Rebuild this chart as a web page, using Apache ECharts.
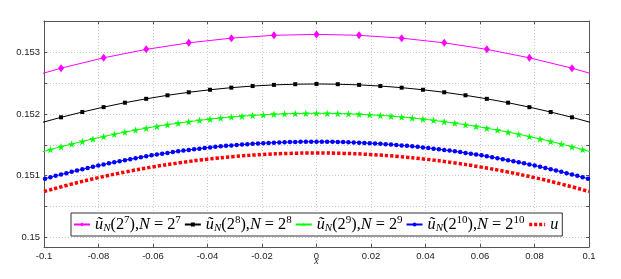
<!DOCTYPE html>
<html>
<head>
<meta charset="utf-8">
<script src="https://cdn.jsdelivr.net/npm/echarts@6/dist/echarts.min.js"></script>
<style>
html,body{margin:0;padding:0;background:#fff;}
#chart{width:621px;height:279px;}
</style>
</head>
<body>
<div id="chart"></div>
<script>
// ---- data ----
const xTicks = [-0.1, -0.08, -0.06, -0.04, -0.02, 0, 0.02, 0.04, 0.06, 0.08, 0.1];
const yTickLabels = [0.15, 0.151, 0.152, 0.153];
const yGridValues = [0.15, 0.1505, 0.151, 0.1515, 0.152, 0.1525, 0.153, 0.1535];

const x7 = [-0.10938, -0.09375, -0.07813, -0.0625, -0.04688, -0.03125, -0.01563, 0, 0.01563, 0.03125, 0.04688, 0.0625, 0.07813, 0.09375, 0.10938];
const y7 = [0.152546, 0.152743, 0.152911, 0.153048, 0.153154, 0.153230, 0.153276, 0.153291, 0.153276, 0.153230, 0.153154, 0.153048, 0.152911, 0.152743, 0.152546];

const x8 = [-0.10156, -0.09375, -0.08594, -0.07813, -0.07031, -0.0625, -0.05469, -0.04688, -0.03906, -0.03125, -0.02344, -0.01563, -0.00781, 0, 0.00781, 0.01563, 0.02344, 0.03125, 0.03906, 0.04688, 0.05469, 0.0625, 0.07031, 0.07813, 0.08594, 0.09375, 0.10156];
const y8 = [0.151852, 0.151946, 0.152032, 0.152111, 0.152183, 0.152246, 0.152303, 0.152352, 0.152393, 0.152427, 0.152453, 0.152472, 0.152483, 0.152487, 0.152483, 0.152472, 0.152453, 0.152427, 0.152393, 0.152352, 0.152303, 0.152246, 0.152183, 0.152111, 0.152032, 0.151946, 0.151852];

const x9 = [-0.10156, -0.09766, -0.09375, -0.08984, -0.08594, -0.08203, -0.07813, -0.07422, -0.07031, -0.06641, -0.0625, -0.05859, -0.05469, -0.05078, -0.04688, -0.04297, -0.03906, -0.03516, -0.03125, -0.02734, -0.02344, -0.01953, -0.01563, -0.01172, -0.00781, -0.00391, 0, 0.00391, 0.00781, 0.01172, 0.01563, 0.01953, 0.02344, 0.02734, 0.03125, 0.03516, 0.03906, 0.04297, 0.04688, 0.05078, 0.05469, 0.05859, 0.0625, 0.06641, 0.07031, 0.07422, 0.07813, 0.08203, 0.08594, 0.08984, 0.09375, 0.09766, 0.10156];
const y9 = [0.151375, 0.151423, 0.151469, 0.151513, 0.151555, 0.151596, 0.151634, 0.151671, 0.151706, 0.151739, 0.151770, 0.151799, 0.151826, 0.151852, 0.151875, 0.151897, 0.151917, 0.151935, 0.151951, 0.151965, 0.151977, 0.151987, 0.151996, 0.152003, 0.152007, 0.152010, 0.152011, 0.152010, 0.152007, 0.152003, 0.151996, 0.151987, 0.151977, 0.151965, 0.151951, 0.151935, 0.151917, 0.151897, 0.151875, 0.151852, 0.151826, 0.151799, 0.151770, 0.151739, 0.151706, 0.151671, 0.151634, 0.151596, 0.151555, 0.151513, 0.151469, 0.151423, 0.151375];

const x10 = [-0.10156, -0.09961, -0.09766, -0.0957, -0.09375, -0.0918, -0.08984, -0.08789, -0.08594, -0.08398, -0.08203, -0.08008, -0.07813, -0.07617, -0.07422, -0.07227, -0.07031, -0.06836, -0.06641, -0.06445, -0.0625, -0.06055, -0.05859, -0.05664, -0.05469, -0.05273, -0.05078, -0.04883, -0.04688, -0.04492, -0.04297, -0.04102, -0.03906, -0.03711, -0.03516, -0.0332, -0.03125, -0.0293, -0.02734, -0.02539, -0.02344, -0.02148, -0.01953, -0.01758, -0.01563, -0.01367, -0.01172, -0.00977, -0.00781, -0.00586, -0.00391, -0.00195, 0, 0.00195, 0.00391, 0.00586, 0.00781, 0.00977, 0.01172, 0.01367, 0.01563, 0.01758, 0.01953, 0.02148, 0.02344, 0.02539, 0.02734, 0.0293, 0.03125, 0.0332, 0.03516, 0.03711, 0.03906, 0.04102, 0.04297, 0.04492, 0.04688, 0.04883, 0.05078, 0.05273, 0.05469, 0.05664, 0.05859, 0.06055, 0.0625, 0.06445, 0.06641, 0.06836, 0.07031, 0.07227, 0.07422, 0.07617, 0.07813, 0.08008, 0.08203, 0.08398, 0.08594, 0.08789, 0.08984, 0.0918, 0.09375, 0.0957, 0.09766, 0.09961, 0.10156];
const y10 = [0.150927, 0.150951, 0.150974, 0.150997, 0.151019, 0.151041, 0.151062, 0.151083, 0.151104, 0.151124, 0.151144, 0.151163, 0.151181, 0.151200, 0.151217, 0.151235, 0.151251, 0.151268, 0.151284, 0.151299, 0.151314, 0.151329, 0.151343, 0.151356, 0.151369, 0.151382, 0.151394, 0.151406, 0.151417, 0.151428, 0.151438, 0.151448, 0.151458, 0.151467, 0.151475, 0.151483, 0.151491, 0.151498, 0.151505, 0.151511, 0.151517, 0.151522, 0.151527, 0.151531, 0.151535, 0.151539, 0.151542, 0.151544, 0.151546, 0.151548, 0.151549, 0.151550,
  0.151550,
  0.151550, 0.151549, 0.151548, 0.151546, 0.151544, 0.151542, 0.151539, 0.151535, 0.151531, 0.151527, 0.151522, 0.151517, 0.151511, 0.151505, 0.151498, 0.151491, 0.151483, 0.151475, 0.151467, 0.151458, 0.151448, 0.151438, 0.151428, 0.151417, 0.151406, 0.151394, 0.151382, 0.151369, 0.151356, 0.151343, 0.151329, 0.151314, 0.151299, 0.151284, 0.151268, 0.151251, 0.151235, 0.151217, 0.151200, 0.151181, 0.151163, 0.151144, 0.151124, 0.151104, 0.151083, 0.151062, 0.151041, 0.151019, 0.150997, 0.150974, 0.150951, 0.150927];

const xU = [-0.1, -0.09, -0.08, -0.07, -0.06, -0.05, -0.04, -0.03, -0.02, -0.01, 0, 0.01, 0.02, 0.03, 0.04, 0.05, 0.06, 0.07, 0.08, 0.09, 0.1];
const yU = [0.150743, 0.150862, 0.150968, 0.151061, 0.151142, 0.151211, 0.151267, 0.151311, 0.151342, 0.151361, 0.151367, 0.151361, 0.151342, 0.151311, 0.151267, 0.151211, 0.151142, 0.151061, 0.150968, 0.150862, 0.150743];

const seriesNames = ['uN(2^7),N=2^7', 'uN(2^8),N=2^8', 'uN(2^9),N=2^9', 'uN(2^10),N=2^10', 'u'];
const legendRich = {
  'uN(2^7),N=2^7':  '{it|ũ}{sub|N}{t|(2}{sup|7}{t|),}{it|N}{t| = 2}{sup|7}',
  'uN(2^8),N=2^8':  '{it|ũ}{sub|N}{t|(2}{sup|8}{t|),}{it|N}{t| = 2}{sup|8}',
  'uN(2^9),N=2^9':  '{it|ũ}{sub|N}{t|(2}{sup|9}{t|),}{it|N}{t| = 2}{sup|9}',
  'uN(2^10),N=2^10':'{it|ũ}{sub|N}{t|(2}{sup|10}{t|),}{it|N}{t| = 2}{sup|10}',
  'u': '{it|u}'
};

function pairs(xs, ys) { return xs.map((x, i) => [x, ys[i]]); }

const STAR = 'path://M50,0 L61,35 L98,35 L68,57 L79,91 L50,70 L21,91 L32,57 L2,35 L39,35 Z';
const serifFont = 'Liberation Serif';
const axisColor = '#555';

const chart = echarts.init(document.getElementById('chart'), null, {renderer: 'canvas'});
chart.setOption({
  animation: false,
  backgroundColor: '#fff',
  grid: {left: 44, right: 32, top: 21, bottom: 32, containLabel: false},
  xAxis: [{
    type: 'value', min: -0.1, max: 0.1, interval: 0.02,
    position: 'bottom',
    name: 'x', nameLocation: 'middle', nameGap: 9, nameMoveOverlap: false,
    nameTextStyle: {fontFamily: serifFont, fontStyle: 'italic', fontSize: 10, color: '#222'},
    axisLine: {show: true, onZero: false, lineStyle: {color: axisColor, width: 1}},
    axisTick: {show: true, inside: true, length: 3, lineStyle: {color: axisColor}},
    axisLabel: {fontFamily: 'Liberation Sans', fontSize: 9.5, color: '#222', margin: 4,
      formatter: v => String(Math.round(v * 100) / 100)},
    splitLine: {show: true, lineStyle: {color: '#c8c8c8', type: [1, 2], width: 1}}
  }, {
    type: 'value', min: -0.1, max: 0.1, interval: 0.02,
    position: 'top',
    axisLine: {show: true, onZero: false, lineStyle: {color: axisColor, width: 1}},
    axisTick: {show: true, inside: true, length: 3, lineStyle: {color: axisColor}},
    axisLabel: {show: false},
    splitLine: {show: false}
  }],
  yAxis: [{
    type: 'value', min: 0.149843, max: 0.153508,
    position: 'left',
    axisLine: {show: true, onZero: false, lineStyle: {color: axisColor, width: 1}},
    axisTick: {show: true, inside: true, length: 3, lineStyle: {color: axisColor}, customValues: yGridValues},
    axisLabel: {fontFamily: 'Liberation Sans', fontSize: 9.5, color: '#222', margin: 4,
      customValues: yTickLabels, formatter: v => String(Math.round(v * 1000) / 1000)},
    splitLine: {show: true, lineStyle: {color: '#c8c8c8', type: [1, 2], width: 1}}
  }, {
    type: 'value', min: 0.149843, max: 0.153508,
    position: 'right',
    axisLine: {show: true, onZero: false, lineStyle: {color: axisColor, width: 1}},
    axisTick: {show: true, inside: true, length: 3, lineStyle: {color: axisColor}, customValues: yGridValues},
    axisLabel: {show: false},
    splitLine: {show: false}
  }],
  legend: {
    left: 71, top: 213, orient: 'horizontal',
    padding: [2, 4, 2, 2], itemGap: 3,
    itemWidth: 16, itemHeight: 5,
    backgroundColor: '#fff', borderColor: '#333', borderWidth: 1, borderRadius: 0,
    data: [seriesNames[0], seriesNames[1], seriesNames[2],
      {name: seriesNames[3], textStyle: {padding: [0, 5, 0, 0]}},
      {name: seriesNames[4], itemStyle: {opacity: 0}, lineStyle: {width: 3.5, type: [3, 2]}}],
    formatter: name => legendRich[name],
    textStyle: {
      rich: {
        t: {fontFamily: serifFont, fontSize: 16.3, color: '#000', lineHeight: 19},
        it: {fontFamily: serifFont, fontStyle: 'italic', fontSize: 16.3, color: '#000', lineHeight: 19},
        sub: {fontFamily: serifFont, fontStyle: 'italic', fontSize: 11, color: '#000', lineHeight: 11, verticalAlign: 'bottom'},
        sup: {fontFamily: serifFont, fontSize: 11, color: '#000', lineHeight: 11, verticalAlign: 'top'}
      }
    }
  },
  series: [{
    name: seriesNames[0], type: 'line', data: pairs(x7, y7), clip: true,
    symbol: 'diamond', symbolSize: [6, 8], showAllSymbol: true,
    lineStyle: {color: '#ff00ff', width: 1}, itemStyle: {color: '#ff00ff'}
  }, {
    name: seriesNames[1], type: 'line', data: pairs(x8, y8), clip: true,
    symbol: 'rect', symbolSize: 4, showAllSymbol: true,
    lineStyle: {color: '#000', width: 1}, itemStyle: {color: '#000'}
  }, {
    name: seriesNames[2], type: 'line', data: pairs(x9, y9), clip: true,
    symbol: STAR, symbolSize: 7.5, showAllSymbol: true,
    lineStyle: {color: '#00ff00', width: 1}, itemStyle: {color: '#00ff00'}
  }, {
    name: seriesNames[3], type: 'line', data: pairs(x10, y10), clip: true,
    symbol: 'circle', symbolSize: 4.5, showAllSymbol: true,
    lineStyle: {color: '#0000ff', width: 1}, itemStyle: {color: '#0000ff'}
  }, {
    name: seriesNames[4], type: 'line', data: pairs(xU, yU), clip: true, smooth: true,
    symbol: 'none',
    lineStyle: {color: '#ff0000', width: 3.5, type: [3.3, 2], cap: 'butt'}, itemStyle: {color: '#ff0000'}
  }]
});
</script>
</body>
</html>
